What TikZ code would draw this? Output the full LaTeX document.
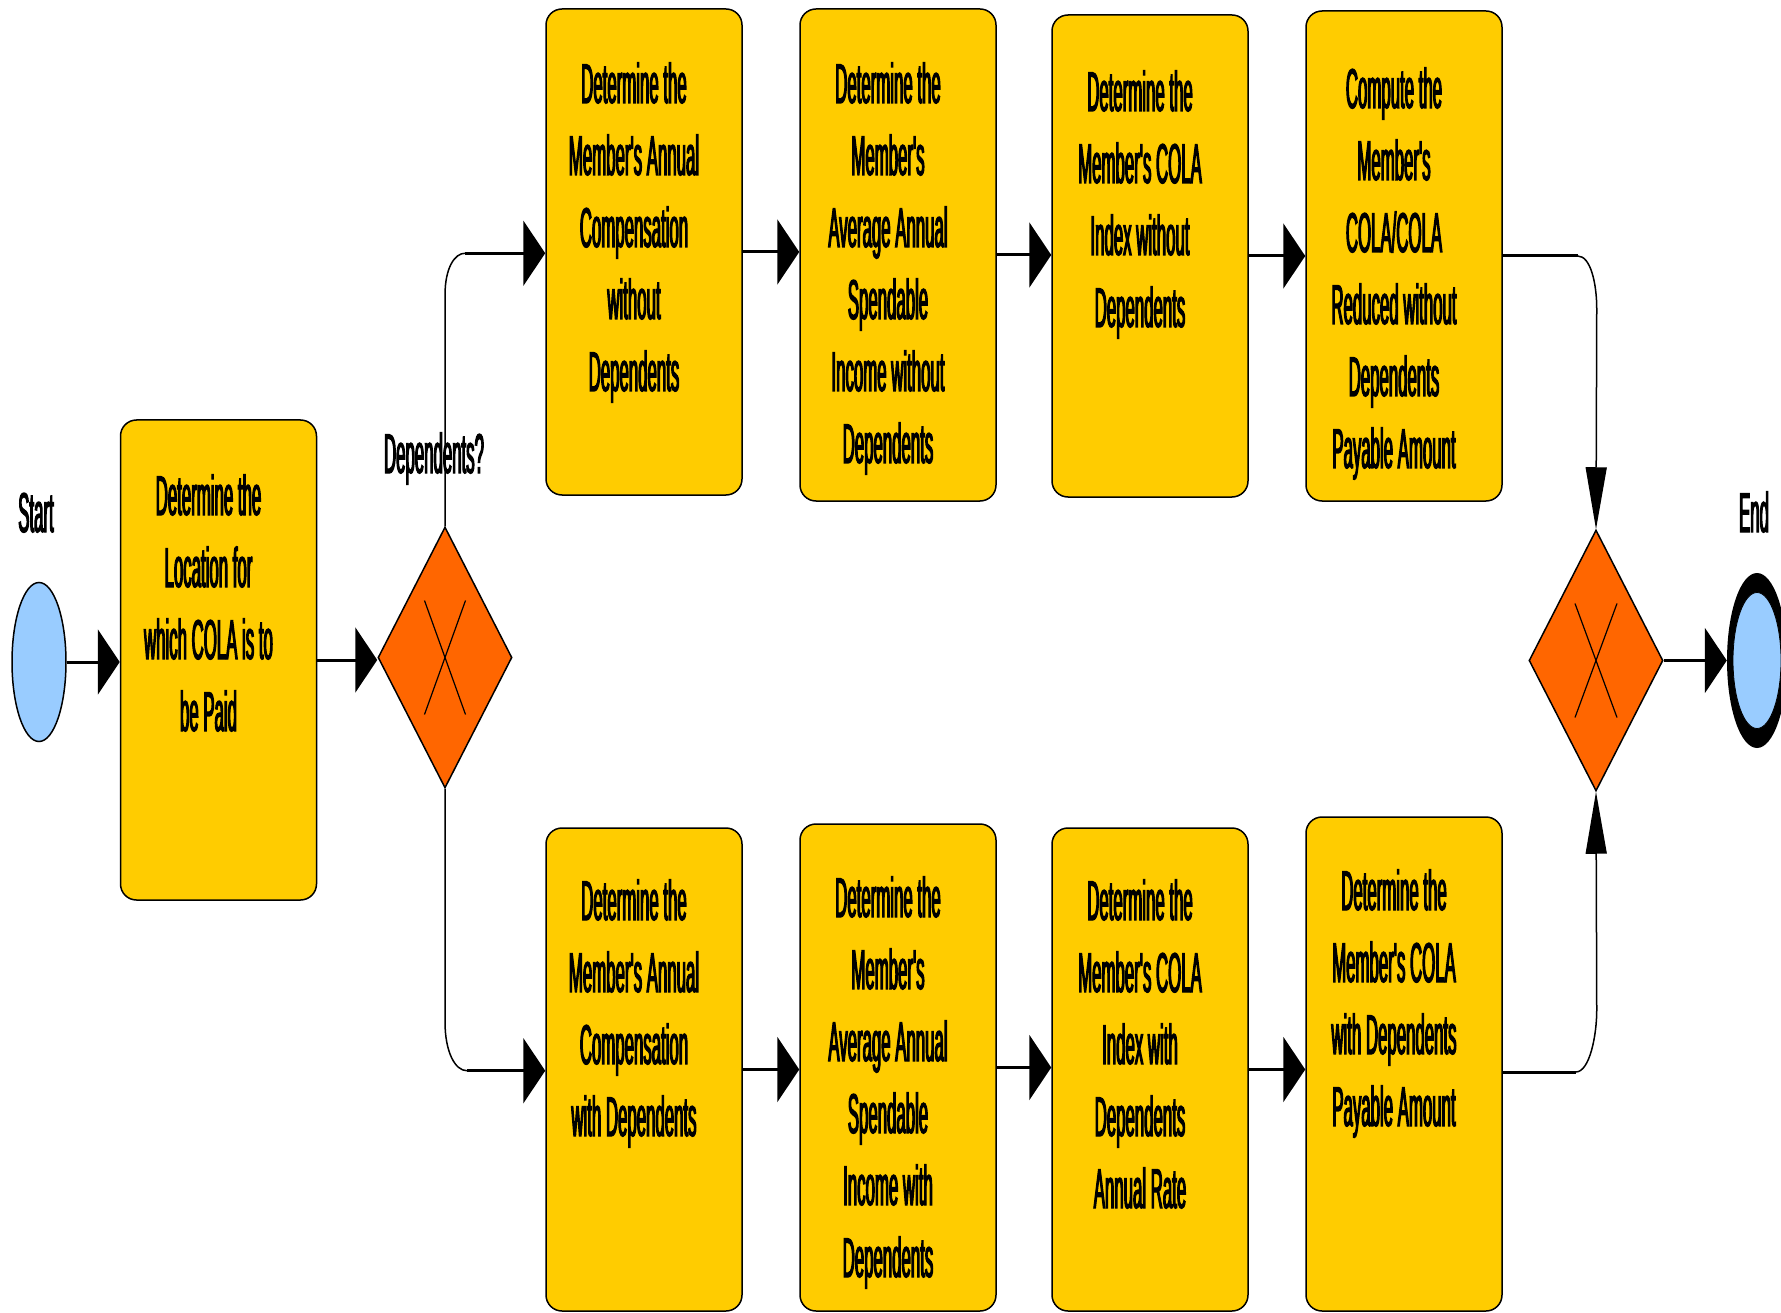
\documentclass[tikz,border=0pt]{standalone}
\usepackage{fontspec}
\newfontfamily\condfont{Liberation Sans}[FakeStretch=0.3,FakeBold=2]
\usetikzlibrary{shapes.geometric,arrows.meta}
\definecolor{boxyellow}{HTML}{FFCC00}
\definecolor{gateorange}{HTML}{FF6600}
\definecolor{eventblue}{HTML}{99CCFF}
\tikzset{
  task/.style={rectangle, rounded corners=16pt, draw=black, line width=1.5pt, fill=boxyellow, inner sep=0pt, minimum width=196pt},
  gate/.style={diamond, aspect=0.513, draw=black, line width=1.5pt, fill=gateorange, inner sep=0pt, minimum width=134pt, minimum height=261pt},
  lbl/.style={font=\condfont\fontsize{56pt}{72pt}\selectfont, inner sep=0pt, anchor=base},
  conn/.style={line width=1.5pt},
  hconn/.style={line width=3pt},
  harrow/.style={-{Triangle[length=22pt,width=65pt]}},
  varrow/.style={-{Triangle[length=62pt,width=21pt]}},
  xmark/.style={line width=1.2pt},
}
\newcommand{\boxtext}[1]{\parbox[t]{240pt}{\centering #1}}
\begin{document}
\begin{tikzpicture}[x=1pt,y=-1pt]
\useasboundingbox (0,0) rectangle (1781,1313);

% events
\node[ellipse, draw=black, line width=1.5pt, fill=eventblue, minimum width=54pt, minimum height=159pt, inner sep=0pt] (start) at (39,662) {};
\node[lbl] (startlbl) at (36,532) {Start};
\node[ellipse, fill=black, minimum width=60pt, minimum height=175pt, inner sep=0pt] (end) at (1757,660.5) {};
\node[ellipse, draw=black, line width=0.8pt, fill=eventblue, minimum width=48pt, minimum height=136pt, inner sep=0pt] (endin) at (end.center) {};
\node[lbl] (endlbl) at (1754,532) {End};

% tasks
\node[task, minimum height=480pt] (task0) at (218.5,660) {};
\node[task, minimum height=486pt] (t1) at (644,252) {};
\node[task, minimum height=492pt] (t2) at (898,255) {};
\node[task, minimum height=482pt] (t3) at (1150,256) {};
\node[task, minimum height=490pt] (t4) at (1404,256) {};
\node[task, minimum height=483pt] (b1) at (644,1069.5) {};
\node[task, minimum height=487pt] (b2) at (898,1067.5) {};
\node[task, minimum height=483pt] (b3) at (1150,1069.5) {};
\node[task, minimum height=494pt] (b4) at (1404,1064) {};

\node[lbl] (task0txt) at (208.5,515) {\boxtext{Determine the\\Location for\\which COLA is to\\be Paid}};
\node[lbl] (t1txt) at (634,103) {\boxtext{Determine the\\Member's Annual\\Compensation\\without\\Dependents}};
\node[lbl] (t2txt) at (888,103) {\boxtext{Determine the\\Member's\\Average Annual\\Spendable\\Income without\\Dependents}};
\node[lbl] (t3txt) at (1140,111) {\boxtext{Determine the\\Member's COLA\\Index without\\Dependents}};
\node[lbl] (t4txt) at (1394,108) {\boxtext{Compute the\\Member's\\COLA/COLA\\Reduced without\\Dependents\\Payable Amount}};
\node[lbl] (b1txt) at (634,920) {\boxtext{Determine the\\Member's Annual\\Compensation\\with Dependents}};
\node[lbl] (b2txt) at (888,917) {\boxtext{Determine the\\Member's\\Average Annual\\Spendable\\Income with\\Dependents}};
\node[lbl] (b3txt) at (1140,920) {\boxtext{Determine the\\Member's COLA\\Index with\\Dependents\\Annual Rate}};
\node[lbl] (b4txt) at (1394,910) {\boxtext{Determine the\\Member's COLA\\with Dependents\\Payable Amount}};

% gateways
\node[gate] (g1) at (445,657.5) {};
\draw[xmark] ([shift={(-20.5,-57)}]g1.center) -- ([shift={(20.5,57)}]g1.center);
\draw[xmark] ([shift={(20.5,-57)}]g1.center) -- ([shift={(-20.5,57)}]g1.center);
\node[lbl] (g1lbl) at (434,473) {Dependents?};
\node[gate] (g2) at (1596,660.5) {};
\draw[xmark] ([shift={(-21,-57)}]g2.center) -- ([shift={(21,57)}]g2.center);
\draw[xmark] ([shift={(21,-57)}]g2.center) -- ([shift={(-21,57)}]g2.center);

% connectors
\draw[hconn,harrow] (start.east) -- (start.east -| task0.west);
\draw[hconn,harrow] (task0.east) -- (task0.east -| g1.west);

\draw[conn] (g1.north) -- ++(0,-231) .. controls +(0,-28) and +(-10,0) .. ++(20,-42) coordinate (c1);
\draw[hconn,harrow] (c1) -- (c1 -| t1.west);
\draw[conn] (g1.south) -- ++(0,233) .. controls +(0,30) and +(-12,0) .. ++(22,49) coordinate (c2);
\draw[hconn,harrow] (c2) -- (c2 -| b1.west);

\draw[hconn,harrow] (t1.east) -- (t1.east -| t2.west);
\draw[hconn,harrow] (t2.east) -- (t2.east -| t3.west);
\draw[hconn,harrow] (t3.east) -- (t3.east -| t4.west);
\draw[hconn,harrow] (b1.east) -- (b1.east -| b2.west);
\draw[hconn,harrow] (b2.east) -- (b2.east -| b3.west);
\draw[hconn,harrow] (b3.east) -- (b3.east -| b4.west);

\draw[hconn] (t4.east) -- ++(75,0) coordinate (c3);
\draw[conn,varrow] (c3) .. controls +(13,0) and +(0,-25) .. ++(19,53) -- (g2.north);
\draw[hconn] ([yshift=-8pt]b4.east) -- ++(73,0) coordinate (c4);
\draw[conn,varrow] (c4) .. controls +(14,0) and +(0,25) .. ++(21,-62) -- (g2.south);

\draw[hconn,harrow] (g2.east) -- (end.west);
\end{tikzpicture}
\end{document}
